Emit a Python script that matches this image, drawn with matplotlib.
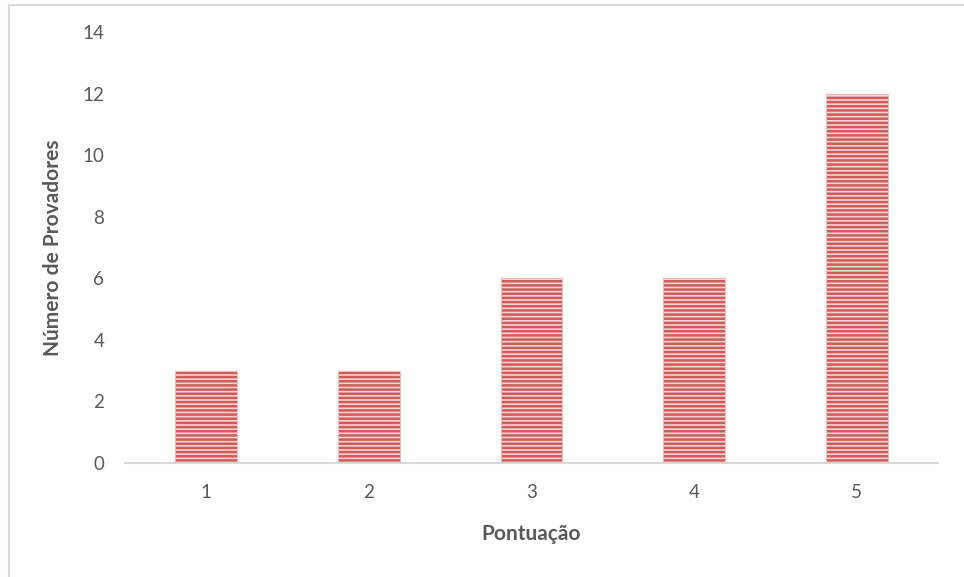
import matplotlib
matplotlib.use("Agg")
from matplotlib import pyplot as plt
from matplotlib.lines import Line2D
import numpy as np

# Scores and number of tasters per score
pontuacao = ["1", "2", "3", "4", "5"]
provadores = [3, 3, 6, 6, 12]
y_ticks = [0, 2, 4, 6, 8, 10, 12, 14]

plt.rcParams['font.family'] = ['Lato', 'DejaVu Sans']
plt.rcParams['hatch.linewidth'] = 1.8

fig = plt.figure(figsize=(9.64, 5.77), dpi=100)
ax = fig.add_axes([0.1297, 0.1976, 0.8433, 0.7469])

x = np.arange(len(pontuacao))
# pink fill with darker red horizontal stripes
ax.bar(x, provadores, width=0.38, color="#f7d3d2", edgecolor="#cf5c5a",
       linewidth=0, hatch="----", zorder=2)
ax.bar(x, provadores, width=0.38, fill=False, edgecolor="#f2b9b8",
       linewidth=0.8, zorder=3)

ax.set_xlim(-0.5, 4.5)
ax.set_ylim(0, 14)
ax.set_xticks(x)
ax.set_xticklabels(pontuacao)
ax.set_yticks(y_ticks)

for s in ["top", "right", "left"]:
    ax.spines[s].set_visible(False)
ax.spines["bottom"].set_color("#d9d9d9")
ax.spines["bottom"].set_linewidth(1.5)
ax.tick_params(axis="both", length=0, labelsize=13.5, colors="#595959")
ax.tick_params(axis="x", pad=15)
ax.tick_params(axis="y", pad=15)

ax.set_xlabel("Pontuação", fontsize=15, fontweight="bold", color="#595959", labelpad=17)
ax.set_ylabel("Número de Provadores", fontsize=15, fontweight="bold", color="#595959", labelpad=14)

# thin frame at top and left of the chart area
fig.add_artist(Line2D([8.5 / 964, 1], [1 - 4.5 / 577] * 2, color="#d9d9d9", lw=1.5))
fig.add_artist(Line2D([8.5 / 964] * 2, [0, 1 - 4.5 / 577], color="#d9d9d9", lw=1.5))

fig.savefig("out.png", dpi=100)
